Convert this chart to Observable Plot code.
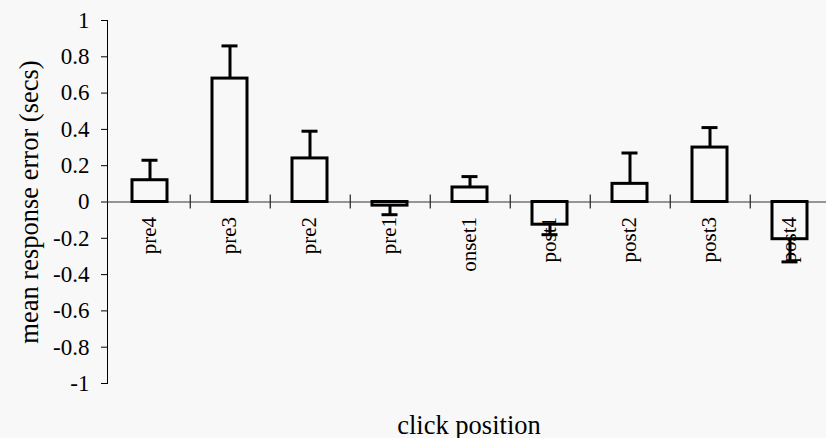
<!DOCTYPE html>
<html><head><meta charset="utf-8">
<script src="https://cdn.jsdelivr.net/npm/d3@7"></script>
<script src="https://cdn.jsdelivr.net/npm/@observablehq/plot@0.6"></script>
<style>html,body{margin:0;padding:0;background:#f8f8f8;overflow:hidden}</style>
</head><body><div id="chart"></div>
<script>
const categories = ["pre4","pre3","pre2","pre1","onset1","post1","post2","post3","post4"];
const means = [0.12, 0.68, 0.24, -0.02, 0.08, -0.125, 0.10, 0.30, -0.205];
const errorEnds = [0.23, 0.86, 0.39, -0.07, 0.14, -0.18, 0.27, 0.41, -0.33];
const yTicks = [-1, -0.8, -0.6, -0.4, -0.2, 0, 0.2, 0.4, 0.6, 0.8, 1];
const yTickLabels = ["-1", "-0.8", "-0.6", "-0.4", "-0.2", "0", "0.2", "0.4", "0.6", "0.8", "1"];
const xTitle = "click position";
const yTitle = "mean response error (secs)";

const data = categories.map((c, i) => ({cat: c, mean: means[i], err: errorEnds[i]}));

const chart = Plot.plot({
  width: 826,
  height: 438,
  marginLeft: 107,
  marginTop: 20,
  marginBottom: 55,
  marginRight: 0,
  style: {background: "transparent", fontFamily: "'Liberation Serif', 'Times New Roman', serif", fontSize: "23px", color: "black", overflow: "visible"},
  x: {domain: categories, range: [107, 831.5], paddingInner: 0.565, paddingOuter: 0.2825, axis: null},
  y: {domain: [-1, 1], range: [383, 20], ticks: yTicks, tickFormat: d => yTickLabels[yTicks.findIndex(t => Math.abs(t - d) < 1e-9)], tickSize: 6, tickPadding: 12, label: null, line: true},
  marks: [
    Plot.ruleY([0], {stroke: "#333", strokeWidth: 1}),
    Plot.ruleX(categories, {x: d => d, dx: 40.25, y1: -0.038, y2: 0.038, stroke: "#222", strokeWidth: 1.2}),
    Plot.ruleX(data, {x: "cat", y1: "mean", y2: "err", stroke: "black", strokeWidth: 3}),
    Plot.tickY(data, {x: "cat", y: "err", stroke: "black", strokeWidth: 3, insetLeft: 9.5, insetRight: 9.5}),
    Plot.barY(data, {x: "cat", y: "mean", fill: "none", stroke: "black", strokeWidth: 3}),
    Plot.text(data, {x: "cat", y: 0, text: "cat", rotate: -90, textAnchor: "end", lineAnchor: "bottom", dx: 6, dy: 15, fontSize: 21, fill: "black"}),
    Plot.text([xTitle], {text: d => d, frameAnchor: "bottom", lineAnchor: "bottom", dy: 50, dx: 2, fontSize: 26.5, fill: "black"}),
    Plot.text([yTitle], {text: d => d, frameAnchor: "left", rotate: -90, textAnchor: "middle", lineAnchor: "bottom", dx: -70, fontSize: 26.5, fill: "black"})
  ]
});
document.getElementById("chart").appendChild(chart);
</script>
</body></html>
